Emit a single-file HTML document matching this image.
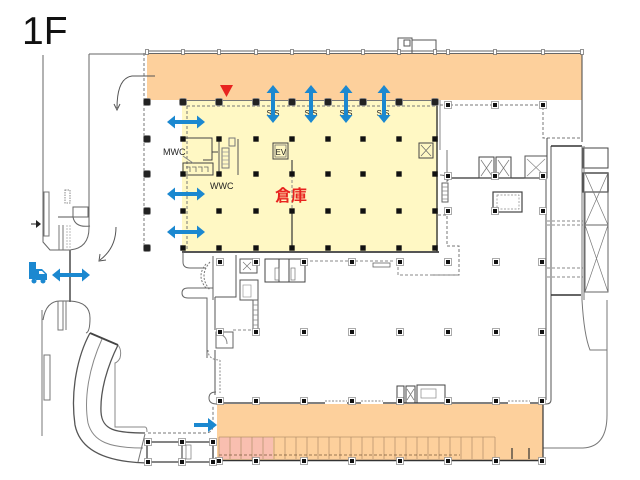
<!DOCTYPE html>
<html><head><meta charset="utf-8"><style>
html,body{margin:0;padding:0;background:#fff;}
svg{display:block;}
</style></head><body>
<svg width="640" height="480" viewBox="0 0 640 480" xmlns="http://www.w3.org/2000/svg">
<defs>
<path id="ha" d="M-19,0 L-11,-6.5 L-11,-2 L11,-2 L11,-6.5 L19,0 L11,6.5 L11,2 L-11,2 L-11,6.5 Z" fill="#1b88d0"/>
<rect id="p" x="-2.7" y="-2.7" width="5.4" height="5.4" fill="#111"/>
<g id="pb"><rect x="-3.5" y="-3.5" width="7" height="7" rx="1.5" fill="#222" stroke="#888" stroke-width="0.8"/></g>
<g id="q"><rect x="-3.5" y="-3.5" width="7" height="7" fill="#fff" stroke="#888" stroke-width="0.7"/><rect x="-2" y="-2" width="4" height="4" fill="#111"/></g>
<g id="t"><rect x="-1.5" y="-2.5" width="3" height="5" fill="#fff" stroke="#666" stroke-width="0.7"/></g>
</defs>
<rect x="0" y="0" width="640" height="480" fill="#fff"/>

<!-- fills -->
<rect x="147" y="53" width="435" height="47" fill="#fdd09c"/>
<rect x="182" y="100" width="256" height="152" fill="#fff8c4"/>
<rect x="217" y="404" width="326" height="56" fill="#fdd09c"/>
<rect x="219" y="437" width="54" height="22" fill="#f9bfb0"/>

<!-- title -->
<text x="22" y="44" font-family="Liberation Sans, sans-serif" font-size="39" fill="#111">1F</text>

<g fill="none" stroke="#666" stroke-width="1">
<!-- top band walls -->
<line x1="147" y1="51" x2="582" y2="51"/>
<line x1="147" y1="53.5" x2="582" y2="53.5"/>
<line x1="582" y1="51" x2="582" y2="142" stroke="#444"/>
<line x1="89" y1="54" x2="147" y2="54"/>
<!-- top right small structure -->
<path d="M398,53 V38 H412 V53 M404,40 h6 v6 h-6z M412,40 H436 V53" stroke="#555"/>
<!-- dashed left boundary -->
<line x1="144" y1="53" x2="144" y2="252" stroke-dasharray="3,2" stroke="#777"/>
<!-- yellow walls -->
<line x1="182" y1="100.5" x2="438" y2="100.5" stroke="#777"/>
<line x1="187" y1="106" x2="437" y2="106" stroke-dasharray="3,2" stroke="#777"/>
<line x1="187" y1="106" x2="187" y2="250" stroke-dasharray="3,2" stroke="#777"/>
<line x1="182" y1="252" x2="439" y2="252" stroke="#555" stroke-width="2"/>
<line x1="437" y1="100" x2="437" y2="252" stroke="#444" stroke-width="1.5"/>
<line x1="440" y1="100" x2="440" y2="150" stroke="#888"/>
<!-- split wall -->
<line x1="292" y1="160" x2="292" y2="175" stroke="#444" stroke-width="1.2"/>
<line x1="292" y1="175" x2="292" y2="211" stroke-dasharray="3,2" stroke="#888"/>
<line x1="292" y1="211" x2="292" y2="248" stroke="#333" stroke-width="1.2"/>
<!-- MWC / WWC rooms -->
<path d="M183,138 H212 V160 H203 M212,152 H218" stroke="#444"/>
<rect x="183" y="163" width="30" height="12" stroke="#444"/>
<path d="M186,167 h4 v5 M192,167 h4 v5 M198,167 h4 v5 M204,167 h4 v5" stroke="#666" stroke-width="0.8"/>
<path d="M183,156 l10,7" stroke="#888"/>
<line x1="219" y1="139" x2="219" y2="175" stroke="#555"/>
<line x1="238" y1="139" x2="238" y2="175" stroke="#555"/>
<rect x="222" y="148" width="7" height="20" stroke="#777"/>
<path d="M222,152 h7 M222,156 h7 M222,160 h7 M222,164 h7" stroke="#999" stroke-width="0.7"/>
<rect x="229" y="138" width="6" height="8" stroke="#777"/>
<!-- EV -->
<rect x="273" y="143" width="15" height="16" stroke="#444"/>
<rect x="275" y="145" width="11" height="12" stroke="#666" stroke-width="0.7"/>
<!-- right lift box -->
<rect x="419" y="143" width="14" height="15" stroke="#444"/>
<path d="M421,145 L431,156 M431,145 L421,156" stroke="#666" stroke-width="0.7"/>
<!-- right side of yellow: stair -->
<rect x="442" y="183" width="6" height="19" stroke="#666"/>
<path d="M442,187 h6 M442,191 h6 M442,195 h6 M442,199 h6" stroke="#888" stroke-width="0.7"/>
<path d="M440,175 q8,0 8,6 M447,150 V182" stroke="#777"/>
<path d="M438,215 H447 V246 H459 V275 H430" stroke-dasharray="3,2" stroke="#777"/>

<!-- right block -->
<path d="M440,105 H543 V138 H582" stroke-dasharray="3,2" stroke="#777"/>
<line x1="447" y1="178" x2="547" y2="178" stroke="#333" stroke-width="1.2"/>
<rect x="479" y="157" width="15" height="21" stroke="#444"/>
<rect x="496" y="157" width="15" height="21" stroke="#444"/>
<path d="M481,160 L492,176 M492,160 L481,176 M498,160 L509,176 M509,160 L498,176" stroke="#777" stroke-width="0.7"/>
<rect x="525" y="156" width="22" height="22" stroke="#555"/>
<path d="M527,159 L545,176 M545,159 L527,176" stroke="#888" stroke-width="0.7"/>
<line x1="547" y1="138" x2="547" y2="178" stroke="#444"/>
<rect x="493" y="192" width="29" height="20" stroke="#444" stroke-width="1.2"/>
<rect x="497" y="195" width="22" height="14" stroke="#888" stroke-dasharray="2,1.5" stroke-width="0.7"/>
<!-- right walls -->
<path d="M546,180 V400 M551,146 V400 Q551,404 546,404" stroke="#555"/>
<line x1="551" y1="146" x2="582" y2="146" stroke="#333" stroke-width="1.5"/>
<path d="M547,221 H583 M547,225 H583 M547,268 H583 M547,277 H583" stroke-dasharray="3,2" stroke="#888"/>
<line x1="551" y1="295" x2="581" y2="295" stroke="#333" stroke-width="1.5"/>
<rect x="583" y="148" width="25" height="20" stroke="#444"/>
<rect x="583" y="173" width="25" height="19" stroke="#333" stroke-width="1.3"/>
<rect x="585" y="192" width="23" height="100" stroke="#666"/>
<line x1="585" y1="225" x2="608" y2="225" stroke="#666"/>
<path d="M585,173 L608,225 M608,173 L585,225 M585,225 L608,292 M608,225 L585,292" stroke="#777" stroke-width="0.7"/>
<path d="M582,146 V300 Q584,335 590,350 H607 M584,146 V300" stroke="#777"/>
<path d="M607,300 V415 Q607,447 583,448 H543" stroke="#777"/>

<!-- below yellow -->
<path d="M183,252 V262 Q183,268 190,268 H206" stroke="#666"/>
<path d="M206,264 Q196,276 206,288 M210,262 Q198,276 210,290" stroke="#777" stroke-dasharray="2,1.5"/>
<path d="M213,288 H188 Q182,288 182,293 Q182,298 188,298 H207 V358 M213,256 V300" stroke="#666"/>
<path d="M215,297 V330 M215,350 V395" stroke="#555"/>
<path d="M215,297 H236 V255" stroke="#555"/>
<rect x="240" y="259" width="17" height="14" stroke="#555"/>
<path d="M243,262 L251,270 M251,262 L243,270" stroke="#777" stroke-width="0.7"/>
<rect x="240" y="280" width="18" height="20" stroke="#555"/>
<rect x="243" y="285" width="8" height="12" stroke="#999" stroke-width="0.7"/>
<rect x="253" y="300" width="5" height="32" stroke="#666"/>
<path d="M253,305 h5 M253,310 h5 M253,315 h5 M253,320 h5 M253,325 h5" stroke="#888" stroke-width="0.7"/>
<path d="M233,330 H255" stroke-dasharray="3,2" stroke="#888"/>
<rect x="216" y="332" width="17" height="16" stroke="#666"/>
<path d="M219,334 q8,2 8,10" stroke="#888"/>
<rect x="265" y="259" width="14" height="23" stroke="#444"/>
<rect x="279" y="259" width="10" height="23" stroke="#444"/>
<rect x="289" y="259" width="16" height="23" stroke="#444"/>
<rect x="275" y="268" width="4" height="12" stroke="#777" stroke-width="0.7"/>
<rect x="291" y="268" width="4" height="12" stroke="#777" stroke-width="0.7"/>
<line x1="305" y1="261" x2="393" y2="261" stroke-dasharray="3,2" stroke="#888"/>
<rect x="373" y="263" width="17" height="4" stroke="#666" stroke-width="0.8"/>
<path d="M398,262 V275 H459" stroke-dasharray="3,2" stroke="#888"/>

<!-- main area bottom -->
<rect x="397" y="386" width="7" height="17" stroke="#444"/>
<rect x="406" y="386" width="9" height="17" stroke="#444"/>
<path d="M407,389 L414,400 M414,389 L407,400" stroke="#777" stroke-width="0.7"/>
<rect x="417" y="385" width="28" height="18" stroke="#444"/>
<rect x="421" y="389" width="15" height="9" stroke="#888" stroke-width="0.7"/>
<path d="M217,403 H325 M347,403 H361 M383,403 H508 M530,403 H545" stroke="#333" stroke-width="1.3"/>
<path d="M325,401 H347 M361,401 H383 M508,401 H530" stroke-dasharray="2,1.5" stroke="#888"/>
<path d="M217,404 Q209,404 209,398 Q209,392 216,392" stroke="#666"/>
<line x1="217" y1="460.5" x2="544" y2="460.5" stroke="#333" stroke-width="1.5"/>
<line x1="543" y1="404" x2="543" y2="461" stroke="#333" stroke-width="1.2"/>
<path d="M512,448 V459 M529,448 V459" stroke="#333" stroke-width="1.2"/>

<!-- parking stalls -->
<g stroke="#b8946e" stroke-width="0.8">
<line x1="219" y1="437" x2="495" y2="437"/>
<path d="M219,437V459M230,437V459M241,437V459M252,437V459M263,437V459M274,437V459M285,437V459M296,437V459M307,437V459M318,437V459M329,437V459M340,437V459M351,437V459M362,437V459M373,437V459M384,437V459M395,437V459M406,437V459M417,437V459M428,437V459M439,437V459M450,437V459M461,437V459M472,437V459M483,437V459M495,437V459"/>
</g>
<line x1="219" y1="455" x2="460" y2="455" stroke="#7a5a3a" stroke-dasharray="3,2" stroke-width="0.8"/>

<!-- left outer structures -->
<path d="M43,55 V242 L50,250 H70 Q89,248 89,228 V54" stroke="#666"/>
<rect x="44" y="192" width="5" height="44" stroke="#777"/>
<rect x="65" y="190" width="5" height="13" stroke="#888" stroke-dasharray="1.5,1"/>
<path d="M59,225 V250 M63,225 V250" stroke="#777"/>
<path d="M67,225 V250 M70,225 V250" stroke="#bbb" stroke-dasharray="2,1"/>
<line x1="70" y1="250" x2="70" y2="302" stroke="#777" stroke-width="2"/>
<path d="M73,207 H88 V217 H73Z M73,217 Q75,228 90,226" stroke="#666"/>
<path d="M58,217 H73" stroke="#555"/>
<!-- lower left -->
<path d="M43,320 Q46,301 60,301 H70 Q90,302 90,318 Q90,332 86,333" stroke="#666"/>
<line x1="42" y1="310" x2="42" y2="436" stroke="#777"/>
<rect x="44" y="355" width="6" height="45" stroke="#777"/>
<path d="M58,301 V330 H63 V301 M66,301 V330" stroke="#777"/>
<!-- ramp -->
<path d="M90,333 C78,355 70,390 75,425 C80,450 105,462 147,463" stroke="#555" stroke-width="1.3"/>
<path d="M118,345 C108,365 100,390 101,412 C102,430 115,433 145,433" stroke="#555" stroke-width="1.3"/>
<path d="M102,339 C88,370 84,400 88,423 C93,442 110,448 143,448" stroke="#888"/>
<line x1="90" y1="333" x2="118" y2="345" stroke="#444" stroke-width="1.8"/>
<path d="M118,345 Q122,350 120,358 Q118,362 115,363 V427 H145 Q147,427 147,432" stroke="#888"/>
<line x1="145" y1="434" x2="138" y2="462" stroke="#777"/>
<rect x="147" y="442" width="66" height="20" stroke="#333" stroke-width="1.2"/>
<line x1="182" y1="442" x2="182" y2="462" stroke="#333"/>
<rect x="186" y="445" width="5" height="14" stroke="#777" stroke-width="0.7"/>
<path d="M148,433 H205 Q213,433 213,425 V405" stroke-dasharray="3,2" stroke="#777"/>
<path d="M208,350 Q208,360 220,360 M220,360 V393" stroke="#888" stroke-dasharray="2,1.5"/>

<!-- curved arrows -->
<path d="M155,76 H132 Q117,78 117,108" stroke="#555"/>
<path d="M114,104 L117,110 L120,104" stroke="#555"/>
<path d="M116,227 Q116,248 100,260" stroke="#555"/>
<path d="M100,254 L99,261 L106,260" stroke="#555"/>
</g>

<!-- entrance arrow left -->
<line x1="31" y1="224" x2="37" y2="224" stroke="#222" stroke-width="1"/>
<path d="M36,220 L41,224 L36,228 Z" fill="#222"/>

<!-- wall ticks on top band -->
<g>
<use href="#t" x="147" y="52"/><use href="#t" x="183" y="52"/><use href="#t" x="219" y="52"/><use href="#t" x="256" y="52"/><use href="#t" x="292" y="52"/><use href="#t" x="328" y="52"/><use href="#t" x="363" y="52"/><use href="#t" x="399" y="52"/><use href="#t" x="435" y="52"/><use href="#t" x="448" y="52"/><use href="#t" x="495" y="52"/><use href="#t" x="543" y="52"/><use href="#t" x="582" y="52"/>
</g>

<!-- posts yellow grid -->
<g>
<use href="#pb" x="147" y="102"/><use href="#pb" x="183" y="102"/><use href="#pb" x="219" y="102"/><use href="#pb" x="256" y="102"/><use href="#pb" x="292" y="102"/><use href="#pb" x="328" y="102"/><use href="#pb" x="363" y="102"/><use href="#pb" x="399" y="102"/><use href="#pb" x="435" y="102"/>
<use href="#pb" x="147" y="139"/><use href="#pb" x="147" y="174"/><use href="#pb" x="147" y="211"/><use href="#pb" x="147" y="248"/>
<use href="#p" x="183" y="139"/><use href="#p" x="219" y="139"/><use href="#p" x="256" y="139"/><use href="#p" x="292" y="139"/><use href="#p" x="328" y="139"/><use href="#p" x="363" y="139"/><use href="#p" x="399" y="139"/><use href="#p" x="435" y="139"/>
<use href="#p" x="183" y="174"/><use href="#p" x="219" y="174"/><use href="#p" x="256" y="174"/><use href="#p" x="292" y="174"/><use href="#p" x="328" y="174"/><use href="#p" x="363" y="174"/><use href="#p" x="399" y="174"/><use href="#p" x="435" y="174"/>
<use href="#p" x="183" y="211"/><use href="#p" x="219" y="211"/><use href="#p" x="256" y="211"/><use href="#p" x="292" y="211"/><use href="#p" x="328" y="211"/><use href="#p" x="363" y="211"/><use href="#p" x="399" y="211"/><use href="#p" x="435" y="211"/>
<use href="#p" x="183" y="248"/><use href="#p" x="219" y="248"/><use href="#p" x="256" y="248"/><use href="#p" x="292" y="248"/><use href="#p" x="328" y="248"/><use href="#p" x="363" y="248"/><use href="#p" x="399" y="248"/><use href="#p" x="435" y="248"/>
</g>
<!-- posts lower -->
<g>
<use href="#q" x="448" y="105"/><use href="#q" x="495" y="105"/><use href="#q" x="543" y="105"/>
<use href="#q" x="448" y="176"/><use href="#q" x="495" y="176"/><use href="#q" x="543" y="176"/>
<use href="#q" x="448" y="211"/><use href="#q" x="495" y="211"/><use href="#q" x="543" y="211"/>
<use href="#q" x="220" y="262"/><use href="#q" x="256" y="262"/><use href="#q" x="304" y="262"/><use href="#q" x="352" y="262"/><use href="#q" x="400" y="262"/><use href="#q" x="448" y="262"/><use href="#q" x="496" y="262"/><use href="#q" x="542" y="262"/>
<use href="#q" x="220" y="332"/><use href="#q" x="256" y="332"/><use href="#q" x="304" y="332"/><use href="#q" x="352" y="332"/><use href="#q" x="400" y="332"/><use href="#q" x="448" y="332"/><use href="#q" x="496" y="332"/><use href="#q" x="542" y="332"/>
<use href="#q" x="220" y="401"/><use href="#q" x="256" y="401"/><use href="#q" x="304" y="401"/><use href="#q" x="352" y="401"/><use href="#q" x="400" y="401"/><use href="#q" x="448" y="401"/><use href="#q" x="496" y="401"/><use href="#q" x="542" y="401"/>
<use href="#q" x="219" y="461"/><use href="#q" x="256" y="461"/><use href="#q" x="304" y="461"/><use href="#q" x="352" y="461"/><use href="#q" x="400" y="461"/><use href="#q" x="448" y="461"/><use href="#q" x="496" y="461"/><use href="#q" x="542" y="461"/>
<use href="#q" x="148" y="442"/><use href="#q" x="182" y="442"/><use href="#q" x="213" y="442"/><use href="#q" x="148" y="462"/><use href="#q" x="182" y="462"/><use href="#q" x="213" y="462"/>
</g>

<!-- labels -->
<g font-family="Liberation Sans, sans-serif" fill="#222">
<text x="163" y="155" font-size="9">MWC</text>
<text x="210" y="189" font-size="9">WWC</text>
<text x="275.5" y="155" font-size="8">EV</text>
<text x="273" y="116" font-size="8" text-anchor="middle">S.S</text>
<text x="311" y="116" font-size="8" text-anchor="middle">S.S</text>
<text x="346" y="116" font-size="8" text-anchor="middle">S.S</text>
<text x="383" y="116" font-size="8" text-anchor="middle">S.S</text>
</g>
<text x="275" y="201" font-family="Liberation Sans, 'Noto Sans CJK JP', sans-serif" font-size="16" font-weight="bold" fill="#e8231f">倉庫</text>

<!-- red triangle -->
<path d="M220,85 L233,85 L226.5,97 Z" fill="#e8231f"/>

<!-- blue arrows -->
<use href="#ha" x="186" y="122"/>
<use href="#ha" x="186" y="194"/>
<use href="#ha" x="186" y="232"/>
<use href="#ha" x="71" y="275"/>
<use href="#ha" transform="translate(273,104) rotate(90)"/>
<use href="#ha" transform="translate(311,104) rotate(90)"/>
<use href="#ha" transform="translate(346,104) rotate(90)"/>
<use href="#ha" transform="translate(384,104) rotate(90)"/>
<path d="M194,423 H208 V418 L217,425 L208,432 V427 H194 Z" fill="#1b88d0"/>

<!-- truck -->
<g fill="#1b88d0">
<rect x="29" y="262" width="7" height="17"/>
<path d="M36,269 H42 L47,274 V280 H36 Z"/>
<circle cx="34" cy="281" r="2.5"/>
<circle cx="43" cy="281" r="2.5"/>
</g>
<path d="M39,271 H42 L45,274 H39 Z" fill="#fff"/>
</svg>
</body></html>
